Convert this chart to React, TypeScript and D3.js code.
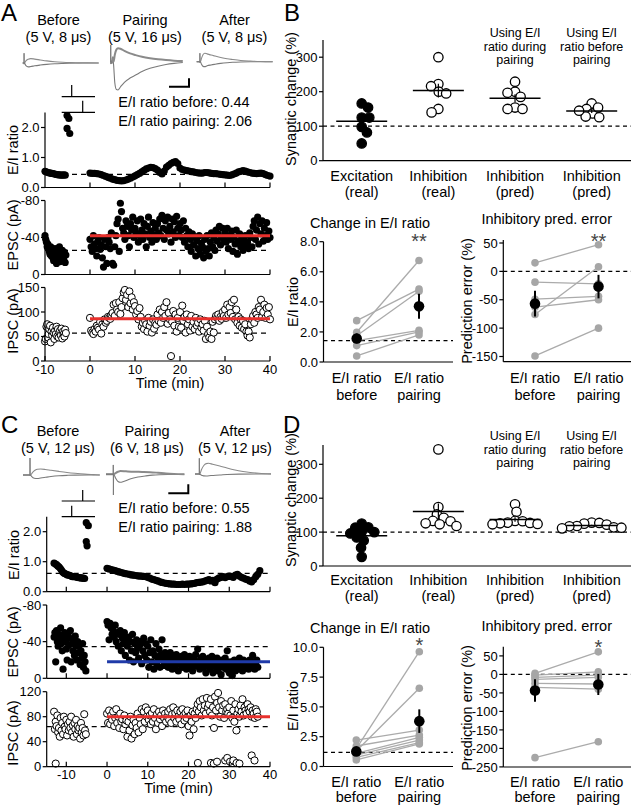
import React from 'react';
import * as d3 from 'd3';

const FONT = '"Liberation Sans", Arial, Helvetica, sans-serif';

// ================= Panel A : time course =================
const aEIBeforeStart = -10, aEIBeforeStep = 0.3;
const aEIBefore = [0.54, 0.52, 0.5, 0.49, 0.48, 0.47, 0.46, 0.45, 0.44, 0.43, 0.42, 0.42, 0.41, 0.41, 0.42, 0.41];
const aEIHighT = [-5.1, -4.7, -5.1, -4.5];
const aEIHighV = [2.4, 2.3, 1.97, 1.8];
const aEIAfterStart = 0, aEIAfterStep = 0.5;
const aEIAfter = [
  0.48, 0.47, 0.47, 0.46, 0.45, 0.43, 0.40, 0.37, 0.34, 0.31,
  0.28, 0.26, 0.24, 0.23, 0.22, 0.23, 0.25, 0.28, 0.31, 0.35,
  0.39, 0.43, 0.47, 0.52, 0.57, 0.62, 0.65, 0.67, 0.66, 0.63,
  0.58, 0.50, 0.45, 0.55, 0.68, 0.74, 0.80, 0.84, 0.86, 0.80,
  0.65, 0.60, 0.58, 0.56, 0.55, 0.53, 0.52, 0.50, 0.49, 0.48,
  0.48, 0.50, 0.50, 0.49, 0.47, 0.46, 0.46, 0.45, 0.44, 0.43,
  0.42, 0.41, 0.40, 0.42, 0.45, 0.48, 0.52, 0.54, 0.56, 0.55,
  0.52, 0.50, 0.48, 0.47, 0.46, 0.47, 0.48, 0.46, 0.43, 0.40, 0.38];
const aEIRef = 0.44;

const aEPSCBeforeStart = -10, aEPSCBeforeStep = 0.16;
const aEPSCBefore = [-42, -38, -35, -30, -33, -28, -25, -22, -30, -20, -26, -18, -15, -22, -28, -24, -12, -20, -17, -25, -30, -14, -22, -18, -26, -20, -16, -24, -13, -21];
const aEPSCAfterStart = 0, aEPSCAfterStep = 0.25;
const aEPSCAfter = [
  -38, -30, -25, -42, -33, -28, -20, -36, -40, -27, -32, -18, -8, -38, -30, -12, -40, -35, -28, -45,
  -12, -10, -30, -42, -55, -60, -25, -77, -68, -50, -45, -38, -58, -52, -42, -30, -55, -48, -62, -40,
  -50, -45, -58, -35, -42, -60, -48, -38, -55, -44, -30, -52, -62, -40, -47, -35, -56, -43, -50, -38,
  -55, -45, -60, -42, -64, -50, -38, -58, -48, -62, -44, -52, -35, -60, -46, -57, -40, -63, -50, -42,
  -55, -48, -40, -58, -35, -50, -42, -30, -46, -38, -25, -44, -32, -40, -20, -36, -28, -42, -22, -34,
  -30, -18, -38, -25, -42, -28, -20, -35, -45, -30, -40, -26, -48, -36, -44, -52, -32, -40, -50, -38,
  -45, -35, -50, -28, -42, -38, -47, -25, -40, -33, -48, -22, -36, -44, -30, -40, -26, -35, -42, -32,
  -35, -28, -45, -40, -30, -52, -58, -38, -48, -62, -33, -55, -44, -58, -36, -50, -42, -56, -38, -47, -40];
const aEPSCRef = -26;
const aEPSCLevel = -42;

const aIPSCBeforeStart = -10, aIPSCBeforeStep = 0.16;
const aIPSCBefore = [40, 45, 70, 75, 48, 55, 65, 72, 38, 60, 52, 68, 58, 45, 62, 55, 70, 50, 65, 48, 58, 62, 52, 66, 46, 60, 55, 50, 64, 57];
const aIPSCAfterStart = 0, aIPSCAfterStep = 0.25;
const aIPSCAfter = [
  88, 62, 58, 55, 65, 60, 72, 68, 64, 80, 56, 75, 70, 85, 78, 82, 90, 88, 86, 94,
  98, 115, 92, 118, 105, 100, 120, 96, 110, 128, 140, 145, 125, 135, 110, 142, 118, 130, 105, 120,
  112, 95, 102, 85, 108, 90, 70, 78, 65, 82, 75, 60, 88, 72, 80, 58, 85, 66, 78, 74,
  95, 82, 105, 78, 100, 88, 110, 92, 120, 76, 98, 85, 10, 80, 102, 72, 95, 60, 88, 70,
  100, 68, 113, 82, 90, 58, 95, 75, 85, 62, 92, 70, 80, 65, 88, 72, 78, 60, 85, 68,
  75, 62, 82, 45, 70, 55, 48, 60, 45, 80, 58, 85, 92, 88, 95, 82, 90, 86, 100, 92,
  105, 88, 115, 95, 110, 98, 120, 90, 125, 85, 105, 78, 90, 72, 85, 68, 82, 65, 75, 60,
  52, 60, 48, 75, 85, 92, 78, 100, 95, 88, 110, 105, 125, 90, 100, 115, 88, 108, 95, 110, 85];
const aIPSCRef = 57;
const aIPSCLevel = 86;

// ================= Panel C : time course =================
const cEIBeforeStart = -13, cEIBeforeStep = 0.3;
const cEIBefore = [0.95, 0.93, 0.9, 0.86, 0.83, 0.78, 0.72, 0.66, 0.62, 0.6, 0.58, 0.56, 0.55, 0.54, 0.52, 0.5, 0.5, 0.5, 0.49, 0.48, 0.47, 0.47, 0.46, 0.45, 0.45, 0.44];
const cEIHighT = [-5.1, -4.6, -5.1, -4.9];
const cEIHighV = [2.3, 2.2, 1.67, 1.53];
const cEIAfterStart = 0, cEIAfterStep = 0.5;
const cEIAfter = [
  0.78, 0.76, 0.74, 0.72, 0.70, 0.68, 0.66, 0.64, 0.62, 0.60,
  0.59, 0.58, 0.56, 0.55, 0.54, 0.53, 0.52, 0.52, 0.51, 0.50,
  0.48, 0.45, 0.42, 0.40, 0.38, 0.36, 0.33, 0.31, 0.29, 0.28,
  0.27, 0.26, 0.25, 0.25, 0.24, 0.24, 0.24, 0.25, 0.24, 0.25,
  0.25, 0.26, 0.27, 0.28, 0.30, 0.31, 0.32, 0.33, 0.35, 0.38,
  0.40, 0.36, 0.38, 0.30, 0.42, 0.46, 0.48, 0.50, 0.47, 0.50,
  0.52, 0.50, 0.48, 0.55, 0.58, 0.52, 0.48, 0.45, 0.42, 0.40,
  0.36, 0.33, 0.40, 0.50, 0.58, 0.70];
const cEIRef = 0.61;

const cEPSCBeforeStart = -13, cEPSCBeforeStep = 0.2;
const cEPSCBefore = [-45, -50, -18, -52, -40, -35, -48, -42, -55, -38, -30, -10, -45, -50, -40, -32, -20, -48, -36, -44, -52, -18, -38, -30, -42, -25, -46, -35, -20, -40, -28, -36, -15, -30, -22, -38, -12, -25, -18, -8];
const cEPSCAfterStart = 0, cEPSCAfterStep = 0.25;
const cEPSCAfter = [
  -62, -58, -42, -60, -55, -48, -52, -45, -58, -40, -50, -35, -48, -52, -30, -44, -38, -50, -25, -42,
  -35, -45, -20, -40, -30, -48, -18, -38, -28, -42, -33, -22, -36, -40, -16, -30, -44, -25, -38, -20,
  -35, -12, -28, -42, -18, -30, -10, -25, -38, -15, -22, -32, -12, -26, -42, -20, -14, -28, -18, -24,
  -12, -22, -28, -16, -10, -25, -20, -14, -26, -18, -8, -22, -15, -24, -12, -20, -26, -16, -10, -22,
  -18, -24, -12, -20, -8, -22, -16, -26, -14, -32, -18, -10, -22, -16, -24, -12, -20, -6, -18, -14,
  -22, -10, -18, -24, -6, -16, -20, -12, -22, -8, -18, -14, -4, -20, -12, -16, -22, -10, -30, -14,
  -6, -18, -12, -3, -16, -20, -8, -14, -18, -10, -22, -12, -16, -8, -20, -14, -18, -12, -16, -10,
  -20, -12, -18, -25, -14, -10, -16, -20, -12];
const cEPSCRef = -34.5;
const cEPSCLevel = -18;

const cIPSCBeforeStart = -13, cIPSCBeforeStep = 0.2;
const cIPSCBefore = [88, 60, 72, 65, 82, 55, 62, 48, 78, 58, 70, 52, 80, 64, 60, 75, 50, 68, 58, 72, 62, 80, 55, 66, 48, 70, 60, 75, 52, 65, 58, 62, 45, 70, 55, 62, 50, 84, 58, 52];
const cIPSCBeforeLowT = [-12.6];
const cIPSCBeforeLowV = [5];
const cIPSCAfterStart = 0, cIPSCAfterStep = 0.25;
const cIPSCAfter = [
  85, 70, 90, 68, 82, 75, 88, 65, 78, 92, 70, 80, 62, 85, 72, 76, 60, 82, 68, 74,
  48, 72, 58, 80, 45, 66, 75, 52, 70, 62, 85, 55, 78, 68, 92, 60, 88, 72, 95, 80,
  90, 75, 82, 68, 86, 72, 92, 78, 60, 84, 70, 88, 76, 82, 65, 90, 78, 85, 72, 80,
  88, 75, 92, 70, 84, 95, 78, 86, 72, 90, 80, 76, 88, 68, 92, 82, 74, 86, 78, 90,
  65, 50, 82, 72, 88, 60, 85, 78, 92, 100, 88, 105, 95, 82, 108, 90, 98, 85, 110, 95,
  100, 88, 108, 82, 95, 62, 112, 90, 102, 118, 95, 80, 105, 90, 98, 78, 100, 88, 92, 85,
  95, 82, 105, 78, 90, 72, 100, 58, 85, 92, 80, 98, 88, 108, 82, 95, 90, 85, 100, 92,
  88, 95, 80, 90, 85, 78, 92, 88, 80];
const cIPSCLowT = [22.3, 25.5, 26.2, 27, 29, 29.5, 30.2, 31, 31.8, 32.5, 35.5, 36.2];
const cIPSCLowV = [6, 6, 5, 8, 10, 14, 8, 10, 6, 5, 18, 10];
const cIPSCRef = 64;
const cIPSCLevel = 80;

// ================= Example traces [ms, pA] =================
const aBeforeArt = [[0, 0], [1.6, 0], [1.7, 115], [1.9, -15], [2.3, 0]];
const aBeforeUp = [[0, 0], [2.3, 0], [4, 25], [7, 45], [10, 52], [15, 46], [22, 36], [30, 25], [40, 15], [50, 9], [60, 5], [70, 2], [80, 1], [95, 0]];
const aBeforeDown = [[0, 0], [2.3, 0], [4, -30], [7, -45], [10, -42], [15, -33], [22, -24], [30, -16], [40, -9], [50, -5], [60, -2], [75, 0], [95, 0]];
const aPairArt = [[0, 0], [0.8, 0], [0.9, 195], [1.1, -30], [1.5, 0]];
const aPairUp = [[0, 0], [1.5, 0], [2.5, -15], [3.5, 50], [4.5, 0], [6, 80], [8, 140], [10, 155], [13, 150], [18, 125], [25, 95], [32, 75], [40, 55], [50, 38], [60, 26], [70, 17], [80, 10], [91, 5]];
const aPairDown = [[0, 0], [1.5, 0], [2.5, -20], [3.5, 40], [4.5, -40], [6, -250], [8, -330], [10, -335], [13, -300], [18, -245], [25, -195], [32, -160], [40, -118], [50, -80], [60, -55], [70, -35], [80, -22], [91, -12]];
const aAfterArt = [[0, 0], [3.9, 0], [4, 100], [4.2, -15], [4.6, 0]];
const aAfterUp = [[0, 0], [4.6, 0], [6, 40], [8, 85], [10, 100], [13, 92], [18, 78], [23, 66], [30, 50], [38, 35], [45, 26], [55, 15], [67, 8], [80, 3], [95, 0]];
const aAfterDown = [[0, 0], [4.6, 0], [6, -30], [8, -55], [10, -58], [13, -48], [18, -38], [23, -30], [30, -20], [38, -12], [45, -7], [55, -3], [67, -1], [95, 0]];

const cBeforeArt = [[0, 0], [8.6, 0], [8.75, 200], [9, -10], [9.4, 0]];
const cBeforeUp = [[0, 0], [9.4, 0], [12, 30], [15, 55], [18, 68], [22, 70], [28, 65], [35, 55], [45, 42], [55, 30], [65, 20], [77, 10], [88, 4], [96, 0]];
const cBeforeDown = [[0, 0], [9.4, 0], [11, -20], [14, -38], [18, -41], [22, -35], [28, -27], [35, -18], [45, -9], [55, -4], [65, -1], [96, 0]];
const cPairArt = [[0, 0], [9, 0], [9.1, 110], [9.25, -243], [9.5, 0]];
const cPairUp = [[0, 0], [9.6, 0], [12, 15], [15, 30], [18, 39], [25, 35], [35, 30], [45, 28], [55, 25], [65, 18], [75, 10], [85, 5], [98, 2]];
const cPairDown = [[0, 0], [9.6, 0], [12, -45], [15, -85], [18, -94], [22, -85], [30, -55], [40, -32], [49, -20], [58, -10], [67, -5], [80, -2], [98, 0]];
const cAfterArt = [[0, 0], [5.3, 0], [5.4, 185], [5.6, -10], [6, 0]];
const cAfterUp = [[0, 0], [6, 0], [8, 50], [11, 100], [14, 122], [17, 126], [22, 115], [31, 94], [40, 70], [50, 47], [60, 30], [69, 18], [80, 9], [95, 2]];
const cAfterDown = [[0, 0], [6, 0], [8, -15], [11, -22], [14, -24], [20, -18], [31, -12], [40, -5], [55, -1], [95, 0]];

// ================= Panels B / D : synaptic change =================
const swarmCats = ['exc', 'inh', 'predDur', 'predBef'];
const swarmLabel1 = ['Excitation', 'Inhibition', 'Inhibition', 'Inhibition'];
const swarmLabel2 = ['(real)', '(real)', '(pred)', '(pred)'];
const swarmFilled = [true, false, false, false];
const swarmHeaders = [[], [], ['Using E/I', 'ratio during', 'pairing'], ['Using E/I', 'ratio before', 'pairing']];

const bExc = [166, 154, 125, 125, 98, 82, 50];
const bInh = [300, 222, 216, 200, 195, 150, 140];
const bPredDur = [229, 200, 197, 185, 154, 150, 150];
const bPredBef = [166, 150, 137, 126, 128, 145, 154];

const dExc = [125, 114, 113, 101, 100, 96, 84, 75, 54, 27];
const dInh = [344, 174, 152, 142, 133, 132, 126, 123, 118];
const dPredDur = [182, 160, 133, 132, 128, 127, 126, 124, 123];
const dPredBef = [128, 127, 125, 122, 118, 117, 114, 113, 111];

const pairCats = ['before', 'pairing'];
const pairLabel1 = ['E/I ratio', 'E/I ratio'];
const pairLabel2 = ['before', 'pairing'];

const bEIBefore = [2.75, 1.98, 1.75, 1.42, 1.09, 0.4];
const bEIPairing = [4.85, 6.75, 4.7, 2.1, 2.0, 1.8];
const bEIRef = 1.42;
const bErrBefore = [15, -19, -49, -63, -76, -149];
const bErrPairing = [47, -22, -44, -50, 8, -100];

const dEIBefore = [1.5, 1.3, 2.22, 1.72, 1.1, 0.96, 0.77, 0.55];
const dEIPairing = [9.63, 6.56, 3.06, 2.64, 2.45, 2.22, 2.0, 1.89];
const dEIRef = 1.19;
const dErrBefore = [2.7, -2, -8, -13.5, -24, -35, -225];
const dErrPairing = [61, 7, -2, -8, -26, -40, -182];

// ================= helpers =================
type Pt = { t: number; v: number };
const seq = (start: number, step: number, vals: number[]): Pt[] => vals.map((v, i) => ({ t: start + i * step, v }));
const zipTV = (ts: number[], vs: number[]): Pt[] => ts.map((t, i) => ({ t, v: vs[i] }));
const sem = (a: number[]) => (d3.deviation(a) || 0) / Math.sqrt(a.length);

const AX = { stroke: '#000', strokeWidth: 1.2 };

function YAxis({ x, scale, ticks, fmt, top, bottom }: any) {
  return (
    <g>
      <line x1={x} x2={x} y1={top} y2={bottom} {...AX} />
      {ticks.map((t: number, i: number) => (
        <g key={i}>
          <line x1={x - 4} x2={x} y1={scale(t)} y2={scale(t)} {...AX} />
          <text x={x - 5.5} y={scale(t) + 4.6} textAnchor="end" fontSize={13}>{fmt(t)}</text>
        </g>
      ))}
    </g>
  );
}

function XAxisTime({ y, scale, ticks, left, right, labels, title }: any) {
  return (
    <g>
      <line x1={left} x2={right} y1={y} y2={y} {...AX} />
      {ticks.map((t: number, i: number) => (
        <g key={i}>
          <line x1={scale(t)} x2={scale(t)} y1={y} y2={y - 5} {...AX} />
          {labels && <text x={scale(t)} y={y + 12.5} textAnchor="middle" fontSize={13}>{t}</text>}
        </g>
      ))}
      {title && <text x={(scale(0) + scale(40)) / 2 - 10} y={y + 26.5} textAnchor="middle" fontSize={14.5}>{title}</text>}
    </g>
  );
}

function Dots({ data, xs, ys, open }: any) {
  return (
    <g>
      {data.map((d: Pt, i: number) => (
        <circle key={i} cx={xs(d.t)} cy={ys(d.v)} r={3.6}
          fill={open ? '#fff' : '#000'} stroke="#000" strokeWidth={open ? 1 : 0} />
      ))}
    </g>
  );
}

function HLine({ xs, ys, t0, t1, v, color, dashed, width }: any) {
  return <line x1={xs(t0)} x2={xs(t1)} y1={ys(v)} y2={ys(v)} stroke={color}
    strokeWidth={width} strokeDasharray={dashed ? '5,4' : undefined} />;
}

function Trace({ x0, base, art, up, down, upW }: any) {
  const xs = d3.scaleLinear().domain([0, 100]).range([x0, x0 + 80]);
  const ys = d3.scaleLinear().domain([0, 100]).range([base, base - 8.5]);
  const smooth = d3.line<number[]>().x(d => xs(d[0])).y(d => ys(d[1])).curve(d3.curveMonotoneX);
  const lin = d3.line<number[]>().x(d => xs(d[0])).y(d => ys(d[1]));
  return (
    <g fill="none">
      <path d={smooth(down) || ''} stroke="#7a7a7a" strokeWidth={1.1} />
      <path d={smooth(up) || ''} stroke="#8a8a8a" strokeWidth={upW || 1.1} />
      <path d={lin(art) || ''} stroke="#7a7a7a" strokeWidth={1} />
    </g>
  );
}

function dodge(vals: number[], y: (v: number) => number, d: number) {
  const order = vals.map((_, i) => i).sort((a, b) => vals[b] - vals[a]);
  const placed: { x: number; y: number }[] = [];
  const out: number[] = new Array(vals.length).fill(0);
  let flip = 1;
  for (const i of order) {
    const yi = y(vals[i]);
    const iv: [number, number][] = [];
    for (const p of placed) {
      const dy = Math.abs(p.y - yi);
      if (dy < d) { const dx = Math.sqrt(d * d - dy * dy); iv.push([p.x - dx, p.x + dx]); }
    }
    const cands = [0];
    iv.forEach(([a, b]) => { cands.push(a, b); });
    cands.sort((a, b) => Math.abs(a) - Math.abs(b) || (a - b) * flip);
    let xi = 0;
    for (const c of cands) {
      if (iv.every(([a, b]) => c <= a + 1e-6 || c >= b - 1e-6)) { xi = c; break; }
    }
    flip = -flip;
    placed.push({ x: xi, y: yi });
    out[i] = xi;
  }
  return out;
}

function SwarmPanel({ top, bottom, ys, ticks, groups, label1Y, label2Y, headerY, ylabelY }: any) {
  const xs = d3.scalePoint().domain(swarmCats).range([361.7, 591.7]);
  return (
    <g>
      <line x1={323} x2={631} y1={ys(100)} y2={ys(100)} stroke="#000" strokeWidth={1.2} strokeDasharray="4,3.5" />
      <YAxis x={323} scale={ys} ticks={ticks} fmt={(t: number) => String(t)} top={top} bottom={bottom} />
      <line x1={323} x2={631} y1={bottom} y2={bottom} {...AX} />
      <text transform={`translate(296,${ylabelY}) rotate(-90)`} textAnchor="middle" fontSize={14.5}>Synaptic change (%)</text>
      {groups.map((vals: number[], gi: number) => {
        const cx = xs(swarmCats[gi]) as number;
        const offs = dodge(vals, ys, 7.6);
        const m = d3.mean(vals) as number;
        const s = sem(vals);
        return (
          <g key={gi}>
            {vals.map((v, i) => (
              <circle key={i} cx={cx + offs[i]} cy={ys(v)} r={4.7}
                fill={swarmFilled[gi] ? '#000' : '#fff'} stroke="#000" strokeWidth={1.3} />
            ))}
            <line x1={cx - 25.5} x2={cx + 25.5} y1={ys(m)} y2={ys(m)} stroke="#000" strokeWidth={1.5} />
            <line x1={cx} x2={cx} y1={ys(m - s)} y2={ys(m + s)} stroke="#000" strokeWidth={1.2} />
            <text x={cx} y={label1Y} textAnchor="middle" fontSize={14.5}>{swarmLabel1[gi]}</text>
            <text x={cx} y={label2Y} textAnchor="middle" fontSize={14.5}>{swarmLabel2[gi]}</text>
            {swarmHeaders[gi].map((h: string, hi: number) => (
              <text key={hi} x={cx} y={headerY + hi * 13.5} textAnchor="middle" fontSize={12.5}>{h}</text>
            ))}
          </g>
        );
      })}
    </g>
  );
}

function PairPanel({ axisX, right, ys, ticks, fmt, top, bottom, before, pairing, refV, title, titleX, titleY, ylabel, ylabelX, ylabelY, stars, starY, label1Y, label2Y, xPos }: any) {
  const xs = d3.scalePoint().domain(pairCats).range(xPos);
  const xb = xs('before') as number, xp = xs('pairing') as number;
  const mb = d3.mean(before) as number, mp = d3.mean(pairing) as number;
  const sb = sem(before), sp = sem(pairing);
  return (
    <g>
      <line x1={axisX} x2={right} y1={ys(refV)} y2={ys(refV)} stroke="#000" strokeWidth={1.2} strokeDasharray="4,3.5" />
      <YAxis x={axisX} scale={ys} ticks={ticks} fmt={fmt} top={top} bottom={bottom} />
      <line x1={axisX} x2={right} y1={bottom} y2={bottom} {...AX} />
      <text x={titleX} y={titleY} textAnchor="middle" fontSize={14.5}>{title}</text>
      <text transform={`translate(${ylabelX},${ylabelY}) rotate(-90)`} textAnchor="middle" fontSize={14.5}>{ylabel}</text>
      {before.map((v: number, i: number) => (
        <line key={'l' + i} x1={xb} x2={xp} y1={ys(v)} y2={ys(pairing[i])} stroke="#ababab" strokeWidth={1.3} />
      ))}
      {before.map((v: number, i: number) => (
        <g key={'p' + i}>
          <circle cx={xb} cy={ys(v)} r={3.8} fill="#a6a6a6" />
          <circle cx={xp} cy={ys(pairing[i])} r={3.8} fill="#a6a6a6" />
        </g>
      ))}
      <line x1={xb} x2={xb} y1={ys(mb - sb)} y2={ys(mb + sb)} stroke="#000" strokeWidth={2} />
      <line x1={xp} x2={xp} y1={ys(mp - sp)} y2={ys(mp + sp)} stroke="#000" strokeWidth={2} />
      <circle cx={xb} cy={ys(mb)} r={5.3} fill="#000" />
      <circle cx={xp} cy={ys(mp)} r={5.3} fill="#000" />
      <text x={xp} y={starY} textAnchor="middle" fontSize={20} fill="#444">{stars}</text>
      {pairCats.map((c, i) => (
        <g key={c}>
          <text x={xs(c) as number} y={label1Y} textAnchor="middle" fontSize={14.5}>{pairLabel1[i]}</text>
          <text x={xs(c) as number} y={label2Y} textAnchor="middle" fontSize={14.5}>{pairLabel2[i]}</text>
        </g>
      ))}
    </g>
  );
}

export default function App() {
  // ---- A scales
  const xA = d3.scaleLinear().domain([-10, 40]).range([45, 270]);
  const yAEI = d3.scaleLinear().domain([0, 2.5]).range([187.5, 112.5]);
  const yAE = d3.scaleLinear().domain([0, -80]).range([274.5, 200.5]);
  const yAI = d3.scaleLinear().domain([0, 150]).range([361, 287.5]);
  // ---- C scales
  const xC = d3.scaleLinear().domain([-10, 40]).range([66.3, 270]);
  const yCEI = d3.scaleLinear().domain([0, 2.5]).range([591.7, 516.7]);
  const yCE = d3.scaleLinear().domain([0, -80]).range([678.3, 605]);
  const yCI = d3.scaleLinear().domain([0, 120]).range([766.7, 691.7]);
  // ---- B / D scales
  const yB = d3.scaleLinear().domain([0, 300]).range([160.7, 57.2]);
  const yD = d3.scaleLinear().domain([0, 300]).range([566, 464.3]);
  const yBEI = d3.scaleLinear().domain([0, 8]).range([362, 241.7]);
  const yBErr = d3.scaleLinear().domain([-150, 50]).range([356.5, 243]);
  const yDEI = d3.scaleLinear().domain([0, 10]).range([766.5, 647.3]);
  const yDErr = d3.scaleLinear().domain([-250, 50]).range([766.9, 655.9]);

  const tTicks = [0, 10, 20, 30, 40];
  const tTicksLab = [-10, 0, 10, 20, 30, 40];
  const f1 = (t: number) => t.toFixed(1);
  const f0 = (t: number) => String(t);

  return (
    <div style={{ position: 'absolute', left: 0, top: 0 }}>
      <svg width={631} height={805} style={{ display: 'block', fontFamily: FONT }} fill="#000">
        <rect x={0} y={0} width={631} height={805} fill="#fff" />

        {/* ===================== PANEL A ===================== */}
        <text x={1} y={21} fontSize={24}>A</text>
        <text x={58.5} y={25} textAnchor="middle" fontSize={14.5}>Before</text>
        <text x={58.5} y={41.5} textAnchor="middle" fontSize={14.5}>(5 V, 8 μs)</text>
        <text x={145} y={25} textAnchor="middle" fontSize={14.5}>Pairing</text>
        <text x={145} y={41.5} textAnchor="middle" fontSize={14.5}>(5 V, 16 μs)</text>
        <text x={234.5} y={25} textAnchor="middle" fontSize={14.5}>After</text>
        <text x={234.5} y={41.5} textAnchor="middle" fontSize={14.5}>(5 V, 8 μs)</text>
        <Trace x0={22.7} base={63} art={aBeforeArt} up={aBeforeUp} down={aBeforeDown} />
        <Trace x0={110} base={61.5} art={aPairArt} up={aPairUp} down={aPairDown} upW={2} />
        <Trace x0={196.7} base={61.7} art={aAfterArt} up={aAfterUp} down={aAfterDown} />
        <path d="M169,86.7 H189 V78.3" fill="none" stroke="#000" strokeWidth={2} />
        <path d="M61.7,96.7 H95 M71.7,96.7 V85 M61.7,112.3 H95 M82.7,112.3 V100.7" fill="none" stroke="#000" strokeWidth={1.2} />
        <text x={118.3} y={107.3} fontSize={14.5}>E/I ratio before: 0.44</text>
        <text x={118.3} y={125.5} fontSize={14.5}>E/I ratio pairing: 2.06</text>

        {/* A: E/I ratio */}
        <HLine xs={xA} ys={yAEI} t0={-10} t1={40} v={aEIRef} color="#000" dashed width={1.2} />
        <Dots data={seq(aEIBeforeStart, aEIBeforeStep, aEIBefore)} xs={xA} ys={yAEI} />
        <Dots data={zipTV(aEIHighT, aEIHighV)} xs={xA} ys={yAEI} />
        <Dots data={seq(aEIAfterStart, aEIAfterStep, aEIAfter)} xs={xA} ys={yAEI} />
        <YAxis x={45} scale={yAEI} ticks={[0, 1, 2]} fmt={f1} top={112.5} bottom={187.5} />
        <XAxisTime y={187.5} scale={xA} ticks={tTicks} left={45} right={270} />
        <text transform="translate(18,150) rotate(-90)" textAnchor="middle" fontSize={14.5}>E/I ratio</text>

        {/* A: EPSC */}
        <HLine xs={xA} ys={yAE} t0={-10} t1={40} v={aEPSCRef} color="#000" dashed width={1.2} />
        <Dots data={seq(aEPSCBeforeStart, aEPSCBeforeStep, aEPSCBefore)} xs={xA} ys={yAE} />
        <Dots data={seq(aEPSCAfterStart, aEPSCAfterStep, aEPSCAfter)} xs={xA} ys={yAE} />
        <HLine xs={xA} ys={yAE} t0={0} t1={40} v={aEPSCLevel} color="#e8302c" width={3} />
        <YAxis x={45} scale={yAE} ticks={[0, -40, -80]} fmt={f0} top={200.5} bottom={274.5} />
        <XAxisTime y={274.5} scale={xA} ticks={tTicks} left={45} right={270} />
        <text transform="translate(18,235) rotate(-90)" textAnchor="middle" fontSize={14.5}>EPSC (pA)</text>

        {/* A: IPSC */}
        <HLine xs={xA} ys={yAI} t0={-10} t1={40} v={aIPSCRef} color="#000" dashed width={1.2} />
        <Dots data={seq(aIPSCBeforeStart, aIPSCBeforeStep, aIPSCBefore)} xs={xA} ys={yAI} open />
        <Dots data={seq(aIPSCAfterStart, aIPSCAfterStep, aIPSCAfter)} xs={xA} ys={yAI} open />
        <HLine xs={xA} ys={yAI} t0={0} t1={40} v={aIPSCLevel} color="#e8302c" width={3} />
        <YAxis x={45} scale={yAI} ticks={[0, 50, 100, 150]} fmt={f0} top={287.5} bottom={361} />
        <XAxisTime y={361} scale={xA} ticks={tTicksLab} left={45} right={270} labels title="Time (min)" />
        <text transform="translate(18,321) rotate(-90)" textAnchor="middle" fontSize={14.5}>IPSC (pA)</text>

        {/* ===================== PANEL B ===================== */}
        <text x={284} y={21} fontSize={24}>B</text>
        <SwarmPanel top={40} bottom={160.7} ys={yB} ticks={[0, 100, 200, 300]}
          groups={[bExc, bInh, bPredDur, bPredBef]} label1Y={181} label2Y={197} headerY={37} ylabelY={99} />
        <PairPanel axisX={323.5} right={453} ys={yBEI} ticks={[0, 2, 4, 6, 8]} fmt={f1} top={241.7} bottom={362}
          before={bEIBefore} pairing={bEIPairing} refV={bEIRef} title="Change in E/I ratio" titleX={370} titleY={228}
          ylabel="E/I ratio" ylabelX={298} ylabelY={302} stars="**" starY={248} label1Y={383} label2Y={399.5} xPos={[356.7, 419]} />
        <PairPanel axisX={503.3} right={631} ys={yBErr} ticks={[50, 0, -50, -100, -150]} fmt={f0} top={240} bottom={361.7}
          before={bErrBefore} pairing={bErrPairing} refV={0} title="Inhibitory pred. error" titleX={546.7} titleY={224}
          ylabel="Prediction error (%)" ylabelX={472} ylabelY={301} stars="**" starY={248} label1Y={383} label2Y={399.5} xPos={[535, 598.5]} />

        {/* ===================== PANEL C ===================== */}
        <text x={1} y={433} fontSize={24}>C</text>
        <text x={58} y={436} textAnchor="middle" fontSize={14.5}>Before</text>
        <text x={58} y={453} textAnchor="middle" fontSize={14.5}>(5 V, 12 μs)</text>
        <text x={147} y={436} textAnchor="middle" fontSize={14.5}>Pairing</text>
        <text x={147} y={453} textAnchor="middle" fontSize={14.5}>(6 V, 18 μs)</text>
        <text x={235} y={436} textAnchor="middle" fontSize={14.5}>After</text>
        <text x={235} y={453} textAnchor="middle" fontSize={14.5}>(5 V, 12 μs)</text>
        <Trace x0={23} base={475} art={cBeforeArt} up={cBeforeUp} down={cBeforeDown} />
        <Trace x0={106} base={474.3} art={cPairArt} up={cPairUp} down={cPairDown} upW={2} />
        <Trace x0={195} base={474} art={cAfterArt} up={cAfterUp} down={cAfterDown} />
        <path d="M168.3,493.3 H188.3 V484.3" fill="none" stroke="#000" strokeWidth={2} />
        <path d="M61.7,501 H95 M82.7,501 V490 M61.7,516.7 H95 M71.7,516.7 V505.7" fill="none" stroke="#000" strokeWidth={1.2} />
        <text x={118.3} y={513} fontSize={14.5}>E/I ratio before: 0.55</text>
        <text x={118.3} y={531.5} fontSize={14.5}>E/I ratio pairing: 1.88</text>

        {/* C: E/I */}
        <HLine xs={xC} ys={yCEI} t0={xC.invert(46.7)} t1={40} v={cEIRef} color="#000" dashed width={1.2} />
        <Dots data={seq(cEIBeforeStart, cEIBeforeStep, cEIBefore)} xs={xC} ys={yCEI} />
        <Dots data={zipTV(cEIHighT, cEIHighV)} xs={xC} ys={yCEI} />
        <Dots data={seq(cEIAfterStart, cEIAfterStep, cEIAfter)} xs={xC} ys={yCEI} />
        <YAxis x={46.7} scale={yCEI} ticks={[0, 1, 2]} fmt={f1} top={516.7} bottom={591.7} />
        <XAxisTime y={591.7} scale={xC} ticks={tTicksLab} left={46.7} right={270} />
        <text transform="translate(19,555) rotate(-90)" textAnchor="middle" fontSize={14.5}>E/I ratio</text>

        {/* C: EPSC */}
        <HLine xs={xC} ys={yCE} t0={xC.invert(46.7)} t1={40} v={cEPSCRef} color="#000" dashed width={1.2} />
        <Dots data={seq(cEPSCBeforeStart, cEPSCBeforeStep, cEPSCBefore)} xs={xC} ys={yCE} />
        <Dots data={seq(cEPSCAfterStart, cEPSCAfterStep, cEPSCAfter)} xs={xC} ys={yCE} />
        <HLine xs={xC} ys={yCE} t0={0} t1={40} v={cEPSCLevel} color="#1f3aa8" width={3} />
        <YAxis x={46.7} scale={yCE} ticks={[0, -40, -80]} fmt={f0} top={605} bottom={678.3} />
        <XAxisTime y={678.3} scale={xC} ticks={tTicksLab} left={46.7} right={270} />
        <text transform="translate(18,642) rotate(-90)" textAnchor="middle" fontSize={14.5}>EPSC (pA)</text>

        {/* C: IPSC */}
        <HLine xs={xC} ys={yCI} t0={xC.invert(46.7)} t1={40} v={cIPSCRef} color="#000" dashed width={1.2} />
        <Dots data={seq(cIPSCBeforeStart, cIPSCBeforeStep, cIPSCBefore)} xs={xC} ys={yCI} open />
        <Dots data={zipTV(cIPSCBeforeLowT, cIPSCBeforeLowV)} xs={xC} ys={yCI} open />
        <Dots data={seq(cIPSCAfterStart, cIPSCAfterStep, cIPSCAfter)} xs={xC} ys={yCI} open />
        <Dots data={zipTV(cIPSCLowT, cIPSCLowV)} xs={xC} ys={yCI} open />
        <HLine xs={xC} ys={yCI} t0={0} t1={40} v={cIPSCLevel} color="#e8302c" width={3} />
        <YAxis x={46.7} scale={yCI} ticks={[0, 40, 80, 120]} fmt={f0} top={691.7} bottom={766.7} />
        <XAxisTime y={766.7} scale={xC} ticks={tTicksLab} left={46.7} right={270} labels title="Time (min)" />
        <text transform="translate(18,733) rotate(-90)" textAnchor="middle" fontSize={14.5}>IPSC (pA)</text>

        {/* ===================== PANEL D ===================== */}
        <text x={283} y={433} fontSize={24}>D</text>
        <SwarmPanel top={445} bottom={566} ys={yD} ticks={[0, 100, 200, 300]}
          groups={[dExc, dInh, dPredDur, dPredBef]} label1Y={585} label2Y={601} headerY={440} ylabelY={500} />
        <PairPanel axisX={323.5} right={453} ys={yDEI} ticks={[0, 2.5, 5, 7.5, 10]} fmt={f1} top={647.3} bottom={766.5}
          before={dEIBefore} pairing={dEIPairing} refV={dEIRef} title="Change in E/I ratio" titleX={370} titleY={633}
          ylabel="E/I ratio" ylabelX={298} ylabelY={706} stars="*" starY={652} label1Y={786.5} label2Y={802} xPos={[356.3, 419.3]} />
        <PairPanel axisX={503.3} right={631} ys={yDErr} ticks={[50, 0, -50, -100, -150, -200, -250]} fmt={f0} top={646.7} bottom={767}
          before={dErrBefore} pairing={dErrPairing} refV={0} title="Inhibitory pred. error" titleX={546.7} titleY={631}
          ylabel="Prediction error (%)" ylabelX={472} ylabelY={708} stars="*" starY={654} label1Y={786.5} label2Y={802} xPos={[535, 598.3]} />
      </svg>
    </div>
  );
}
